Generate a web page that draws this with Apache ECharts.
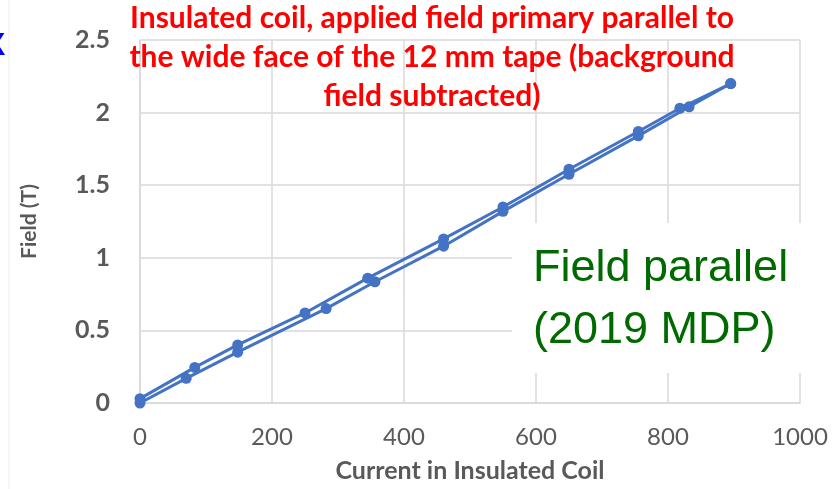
<!DOCTYPE html>
<html>
<head>
<meta charset="utf-8">
<script src="https://cdn.jsdelivr.net/npm/echarts@6/dist/echarts.min.js"></script>
<style>
  html, body { margin: 0; padding: 0; background: #fff; }
  #chart { width: 836px; height: 489px; }
</style>
</head>
<body>
<div id="chart"></div>
<script>
// ramp up (lower branch)
var currentUp = [0, 70, 148, 282, 356, 460, 550, 650, 755, 832, 895];
var fieldUp   = [0, 0.17, 0.35, 0.65, 0.835, 1.08, 1.32, 1.575, 1.84, 2.04, 2.2];
// ramp down (upper branch)
var currentDown = [895, 818, 755, 650, 550, 460, 345, 250, 148, 83, 0];
var fieldDown   = [2.2, 2.03, 1.87, 1.61, 1.35, 1.13, 0.86, 0.62, 0.40, 0.245, 0.03];

var xTicks = [0, 200, 400, 600, 800, 1000];
var yTicks = [0, 0.5, 1, 1.5, 2, 2.5];

var titleLines = [
    'Insulated coil, applied field primary parallel to',
    'the wide face of the 12 mm tape (background',
    'field subtracted)'
];
var noteLines = ['Field parallel', '(2019 MDP)'];

function pairs(xs, ys) {
    var out = [];
    for (var i = 0; i < xs.length; i++) {
        out.push([xs[i], ys[i]]);
    }
    return out;
}

var blue = '#4472C4';
var grey = '#595959';
var gridCol = '#d9d9d9';

var chart = echarts.init(document.getElementById('chart'));

var option = {
    animation: false,
    grid: { left: 140, right: 36, top: 40, bottom: 86 },
    xAxis: {
        type: 'value',
        min: xTicks[0],
        max: xTicks[xTicks.length - 1],
        interval: 200,
        name: 'Current in Insulated Coil',
        nameLocation: 'middle',
        nameGap: 55,
        nameTextStyle: { color: grey, fontSize: 25, fontWeight: 'bold', fontFamily: 'Lato' },
        axisLine: { show: true, lineStyle: { color: gridCol, width: 1.5 } },
        axisTick: { show: false },
        axisLabel: {
            color: grey, fontSize: 24, fontFamily: 'Lato', margin: 22,
            formatter: function (v) { return String(v); }
        },
        splitLine: { show: true, lineStyle: { color: gridCol, width: 1.5 } }
    },
    yAxis: {
        type: 'value',
        min: yTicks[0],
        max: yTicks[yTicks.length - 1],
        interval: 0.5,
        name: 'Field (T)',
        nameLocation: 'middle',
        nameGap: 100,
        nameTextStyle: { color: grey, fontSize: 21, fontWeight: 'bold', fontFamily: 'Lato' },
        axisLine: { show: true, lineStyle: { color: gridCol, width: 1.5 } },
        axisTick: { show: false },
        axisLabel: { color: grey, fontSize: 25, fontWeight: 'bold', fontFamily: 'Lato', margin: 30 },
        splitLine: { show: true, lineStyle: { color: gridCol, width: 1.5 } }
    },
    graphic: [
        {
            type: 'rect', z: 50,
            shape: { x: 512, y: 223, width: 324, height: 150 },
            style: { fill: '#fff' }
        },
        {
            type: 'text', z: 60, left: 533, top: 238,
            style: {
                text: noteLines.join('\n'),
                fill: '#006a00',
                font: '45px "Liberation Sans", Arial, sans-serif',
                lineHeight: 62
            }
        },
        {
            type: 'text', z: 60, x: 432, y: -1,
            style: {
                text: titleLines.join('\n'),
                fill: '#ff0000',
                font: 'bold 30px Lato, sans-serif',
                lineHeight: 39,
                align: 'center',
                verticalAlign: 'top'
            }
        },
        {
            type: 'text', z: 60, x: -16, y: 30,
            style: {
                text: 'X',
                fill: '#0000ff',
                font: 'bold 32px "Liberation Sans", sans-serif'
            }
        },
        {
            type: 'line', z: 1,
            shape: { x1: 9, y1: 0, x2: 9, y2: 489 },
            style: { stroke: '#ececec', lineWidth: 1 }
        }
    ],
    series: [
        {
            name: 'Ramp up',
            type: 'line',
            data: pairs(currentUp, fieldUp),
            symbol: 'circle',
            symbolSize: 11,
            lineStyle: { color: blue, width: 3 },
            itemStyle: { color: blue }
        },
        {
            name: 'Ramp down',
            type: 'line',
            data: pairs(currentDown, fieldDown),
            symbol: 'circle',
            symbolSize: 11,
            lineStyle: { color: blue, width: 3 },
            itemStyle: { color: blue }
        }
    ]
};

chart.setOption(option);
</script>
</body>
</html>
